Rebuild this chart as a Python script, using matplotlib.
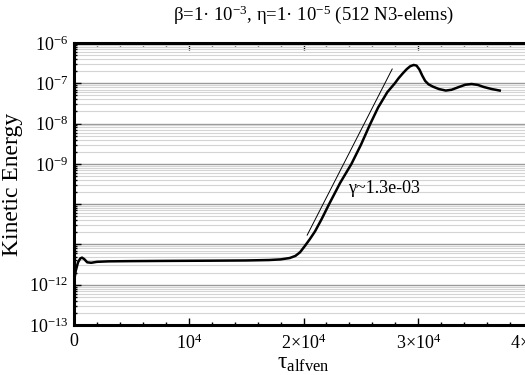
import numpy as np
import matplotlib
matplotlib.use("Agg")
import matplotlib.pyplot as plt
from matplotlib.ticker import LogLocator, MultipleLocator, FixedLocator, FixedFormatter, NullFormatter

plt.rcParams["font.family"] = ["Liberation Serif", "DejaVu Serif"]
plt.rcParams["mathtext.fontset"] = "custom"
plt.rcParams["mathtext.rm"] = "Liberation Serif"
plt.rcParams["mathtext.it"] = "Liberation Serif:italic"
plt.rcParams["mathtext.bf"] = "Liberation Serif:bold"

# kinetic energy vs alfven time
tau = [0, 150, 350, 550, 700, 900, 1150, 1500, 2000, 3000, 5000, 8000, 12000,
       15000, 17000, 18000, 18800, 19300, 19700, 20100, 20550, 21000, 21570,
       22230, 23200, 24180, 25000, 25780, 26500, 27300, 27960, 28300, 28680,
       29000, 29300, 29600, 29850, 30100, 30350, 30600, 30900, 31300, 31800,
       32400, 32900, 33500, 34100, 34650, 35200, 35700, 36400, 37100]
ekin = [1.2e-12, 2.2e-12, 3.6e-12, 4.5e-12, 4.7e-12, 4.3e-12, 3.6e-12, 3.5e-12,
        3.7e-12, 3.8e-12, 3.85e-12, 3.9e-12, 3.95e-12, 4.0e-12, 4.1e-12, 4.25e-12,
        4.6e-12, 5.2e-12, 6.4e-12, 9.0e-12, 1.35e-11, 2.1e-11, 4.2e-11, 1.0e-10,
        3.4e-10, 1.0e-9, 2.95e-9, 9.3e-9, 2.5e-8, 6.0e-8, 1.0e-7, 1.35e-7, 1.8e-7,
        2.25e-7, 2.65e-7, 2.85e-7, 2.75e-7, 2.2e-7, 1.55e-7, 1.15e-7, 9.4e-8,
        8.2e-8, 7.2e-8, 6.6e-8, 6.9e-8, 8.0e-8, 9.2e-8, 9.6e-8, 9.1e-8, 8.1e-8,
        7.2e-8, 6.6e-8]

# linear growth fit line
fit_tau = [20320, 27730]
fit_ekin = [1.7e-11, 2.26e-7]
gamma_label = "γ~1.3e-03"

x_ticks = [0, 1e4, 2e4, 3e4, 4e4]
x_labels = ["0", r"$10^{4}$", r"$2{\times}10^{4}$", r"$3{\times}10^{4}$", r"$4{\times}10^{4}$"]
y_ticks = [1e-13, 1e-12, 1e-11, 1e-10, 1e-9, 1e-8, 1e-7, 1e-6]
y_labels = [r"$10^{-13}$", r"$10^{-12}$", "", "", r"$10^{-9}$", r"$10^{-8}$",
            r"$10^{-7}$", r"$10^{-6}$"]

fig = plt.figure(figsize=(5.25, 3.75), dpi=100)
ax = fig.add_axes([74 / 525, 50 / 375, 459 / 525, 282 / 375])

ax.set_yscale("log")
ax.set_xlim(0, 4e4)
ax.set_ylim(1e-13, 1e-6)

ax.yaxis.grid(True, which="minor", color="#d4d4d4", lw=0.8)
ax.yaxis.grid(True, which="major", color="#9a9a9a", lw=1.0)
ax.set_axisbelow(True)

ax.plot(tau, ekin, color="black", lw=1.8, zorder=3, solid_joinstyle="round")
ax.plot(fit_tau, fit_ekin, color="black", lw=0.7, zorder=3)
ax.text(23900, 2.5e-10, gamma_label, fontsize=13, ha="left", va="center")

ax.xaxis.set_major_locator(FixedLocator(x_ticks))
ax.xaxis.set_major_formatter(FixedFormatter(x_labels))
ax.xaxis.set_minor_locator(MultipleLocator(2000))
ax.yaxis.set_major_locator(FixedLocator(y_ticks))
ax.yaxis.set_major_formatter(FixedFormatter(y_labels))
ax.yaxis.set_minor_locator(LogLocator(base=10, subs=np.arange(2, 10), numticks=20))
ax.yaxis.set_minor_formatter(NullFormatter())

ax.tick_params(which="both", direction="in", top=True, right=True, labelsize=13, width=1.0)
ax.tick_params(which="major", length=5)
ax.tick_params(which="minor", length=2.5)
ax.tick_params(axis="x", pad=6)
ax.tick_params(axis="y", pad=4)
for s in ax.spines.values():
    s.set_linewidth(2.2)

ax.set_xlabel(r"τ$_{\mathrm{alfven}}$", fontsize=17, labelpad=0)
ax.set_ylabel("Kinetic Energy", fontsize=17, labelpad=4)
fig.text(314 / 525, 1 - 15 / 375,
         "β=1· 10$^{-3}$, η=1· 10$^{-5}$ (512 N3-elems)",
         fontsize=13.5, ha="center", va="center")

fig.savefig("out.png", dpi=100)
